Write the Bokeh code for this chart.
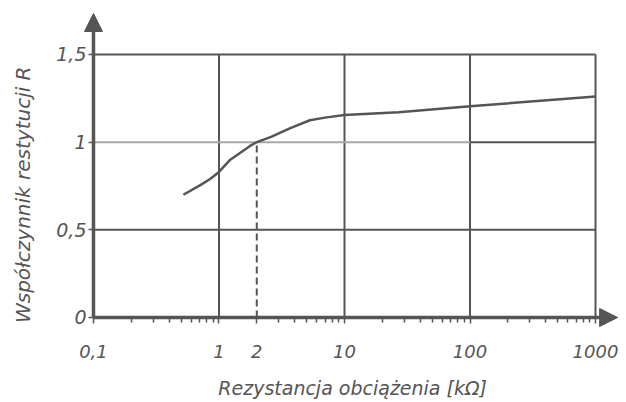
import numpy as np
from bokeh.plotting import figure
from bokeh.models import (FixedTicker, CustomJSTickFormatter, Label, Arrow,
                          NormalHead, Range1d)
from bokeh.embed import file_html
from bokeh.resources import INLINE

# ---- data ----
resistance_kohm = [0.52, 0.71, 0.85, 1.0, 1.23, 1.48, 1.78, 2.0, 2.6, 3.7, 5.3, 7.0, 10, 27, 100, 1000]
restitution_R = [0.70, 0.755, 0.79, 0.83, 0.90, 0.94, 0.98, 1.00, 1.03, 1.08, 1.125, 1.14, 1.155, 1.17, 1.205, 1.26]
x_major_ticks = [0.1, 1, 2, 10, 100, 1000]
x_minor_ticks = [0.2, 0.3, 0.4, 0.5, 0.6, 0.7, 0.8, 0.9,
                 3, 4, 5, 6, 7, 8, 9,
                 20, 30, 40, 50, 60, 70, 80, 90,
                 200, 300, 400, 500, 600, 700, 800, 900]
y_ticks = [0, 0.5, 1, 1.5]
v_grid = [1, 10, 100, 1000]
h_grid = [0.5, 1.5]
marked_x = 2
marked_y = 1.0
x_axis_end = 1500      # arrow tip of the x axis
y_axis_end = 1.734     # arrow tip of the y axis
x_title = "Rezystancja obciążenia [kΩ]"
y_title = "Współczynnik restytucji R"

INK = "#555555"
FONT = "DejaVu Sans"

x_lo, x_hi = 0.01816, 1702
y_lo, y_hi = -0.4735, 1.808

p = figure(width=624, height=400, x_axis_type="log",
           x_range=Range1d(x_lo, x_hi), y_range=Range1d(y_lo, y_hi),
           output_backend="svg", toolbar_location=None,
           min_border_left=0, min_border_right=0, min_border_top=0, min_border_bottom=0)
p.outline_line_color = None
p.background_fill_color = "white"
p.xgrid.visible = False
p.ygrid.visible = False

fmt = CustomJSTickFormatter(code="return String(tick).replace('.', ',');")

xa = p.xaxis[0]
xa.ticker = FixedTicker(ticks=x_major_ticks, minor_ticks=x_minor_ticks)
xa.formatter = fmt
xa.fixed_location = 0
ya = p.yaxis[0]
ya.ticker = FixedTicker(ticks=y_ticks)
ya.formatter = fmt
ya.fixed_location = 0.1

for ax in (xa, ya):
    ax.axis_line_color = None
    ax.major_tick_line_color = INK
    ax.major_tick_line_width = 1.5
    ax.minor_tick_line_color = INK
    ax.minor_tick_line_width = 1.5
    ax.major_tick_in = 0
    ax.minor_tick_in = 0
    ax.major_label_text_font = FONT
    ax.major_label_text_font_style = "italic"
    ax.major_label_text_color = INK
xa.major_label_text_font_size = "18px"
ya.major_label_text_font_size = "19px"
xa.major_tick_out = 6
xa.minor_tick_out = 5
xa.major_label_standoff = 22
ya.major_tick_out = 5
ya.minor_tick_out = 0
ya.major_label_standoff = 2

# grid lines (bounded like the reference)
p.segment(x0=v_grid, y0=[0] * len(v_grid), x1=v_grid, y1=[max(h_grid)] * len(v_grid),
          line_color=INK, line_width=2)
p.segment(x0=[x_major_ticks[0]] * len(h_grid), y0=h_grid,
          x1=[max(v_grid)] * len(h_grid), y1=h_grid, line_color=INK, line_width=2)
p.segment(x0=[x_major_ticks[0]], y0=[marked_y], x1=[100], y1=[marked_y],
          line_color="#a8a8a8", line_width=2)
p.segment(x0=[100], y0=[marked_y], x1=[max(v_grid)], y1=[marked_y],
          line_color=INK, line_width=2)

# dashed marker
p.segment(x0=[marked_x], y0=[0], x1=[marked_x], y1=[marked_y],
          line_color=INK, line_width=2, line_dash="7 4")

# curve
p.line(resistance_kohm, restitution_R, line_color=INK, line_width=2.5)

# axis lines with arrows
p.add_layout(Arrow(end=NormalHead(size=18, fill_color=INK, line_color=INK),
                   x_start=x_major_ticks[0], y_start=0, x_end=x_axis_end, y_end=0,
                   line_color=INK, line_width=3.5))
p.add_layout(Arrow(end=NormalHead(size=18, fill_color=INK, line_color=INK),
                   x_start=x_major_ticks[0], y_start=0, x_end=x_major_ticks[0], y_end=y_axis_end,
                   line_color=INK, line_width=3.5))

# axis titles
p.add_layout(Label(x=11.6, y=-0.40, text=x_title, text_font=FONT,
                   text_font_style="italic", text_font_size="19px", text_color=INK,
                   text_align="center", text_baseline="middle"))
p.add_layout(Label(x=0.0272, y=0.70, text=y_title, angle=np.pi / 2,
                   text_font=FONT, text_font_style="italic",
                   text_font_size="20px", text_color=INK,
                   text_align="center", text_baseline="middle"))

open("out.html", "w").write(file_html(p, INLINE))
